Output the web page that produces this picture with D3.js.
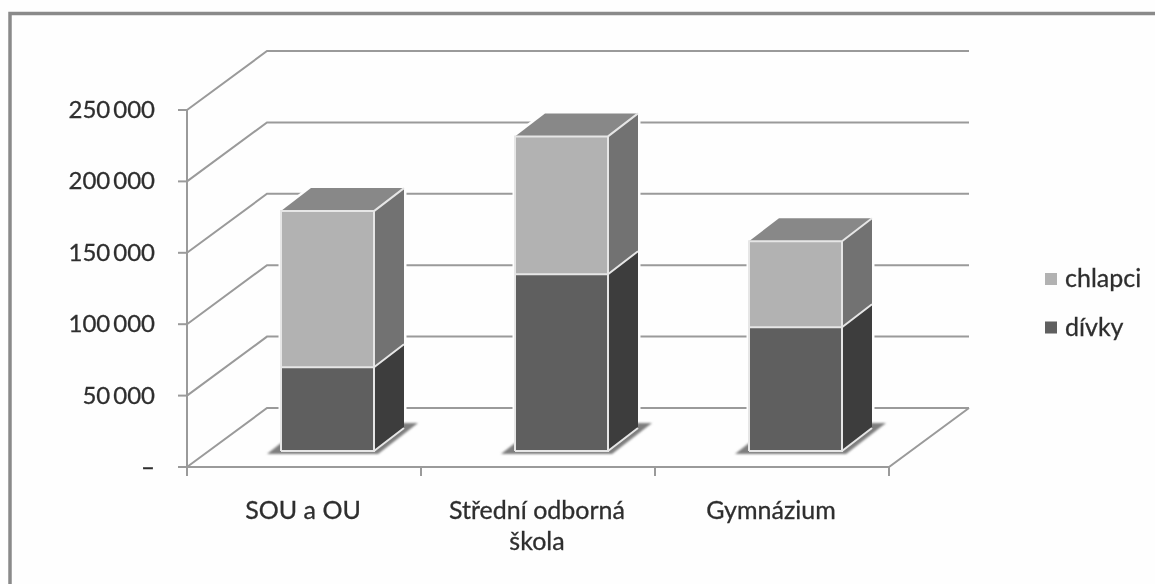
<!DOCTYPE html>
<html lang="cs">
<head>
<meta charset="utf-8">
<title>SOU, SOS, gymnazium</title>
<style>
	body { margin: 0; background: #fff; overflow: hidden; }
	text { font-family: Lato, "Open Sans", sans-serif; fill: #2e2e2e; stroke: #2e2e2e; stroke-width: 0.3px; }
</style>
</head>
<body>
<svg id="chart" width="1155" height="584"></svg>
<script src="https://d3js.org/d3.v7.min.js"></script>
<script>
var categories = [["SOU a OU"], ["Střední odborná", "škola"], ["Gymnázium"]];
var divky = [58700, 123800, 86700];
var chlapci = [109300, 96500, 60200];
var yTicks = [0, 50000, 100000, 150000, 200000, 250000];
var seriesNames = ["chlapci", "dívky"];

var svg = d3.select("#chart");
var defs = svg.append("defs");
defs.append("filter").attr("id", "soft")
	.attr("x", "-5%").attr("y", "-5%").attr("width", "110%").attr("height", "110%")
	.append("feGaussianBlur").attr("stdDeviation", 0.75);
defs.append("filter").attr("id", "shadow")
	.append("feGaussianBlur").attr("stdDeviation", 1.2);

// chart frame, only top and left edge are in the picture
svg.append("rect").attr("width", 1155).attr("height", 584).attr("fill", "#fefefe");
svg.append("path").attr("fill", "none").attr("stroke", "#8a8a8a").attr("stroke-width", 3.5)
	.attr("d", d3.line()([[10, 584], [10, 13.5], [1155, 13.5]]));

var g = svg.append("g").attr("filter", "url(#soft)");

var x = d3.scaleBand().domain(d3.range(categories.length)).range([187, 889]);
var y = d3.scaleLinear().domain([0, 250000]).range([467, 110]);
var wallDx = 80, wallDy = -59;
var barW = 93, barDx = 30, barDy = -23;
var barShift = 23.5, baseLift = 16;

var lineColor = "#9a9a9a";
function poly(sel, pts, fill) {
	return sel.append("polygon").attr("points", pts.map(function(p) { return p.join(","); }).join(" ")).attr("fill", fill);
}

// gridlines along the walls
yTicks.forEach(function(t) {
	g.append("path").attr("fill", "none").attr("stroke", lineColor).attr("stroke-width", 2)
		.attr("d", d3.line()([[x.range()[0], y(t)], [x.range()[0] + wallDx, y(t) + wallDy], [x.range()[1] + wallDx, y(t) + wallDy]]));
});
// floor front edge and right side
g.append("path").attr("fill", "none").attr("stroke", lineColor).attr("stroke-width", 2)
	.attr("d", d3.line()([[x.range()[0], y(0)], [x.range()[1], y(0)], [x.range()[1] + wallDx, y(0) + wallDy]]));
// y axis line
g.append("line").attr("x1", x.range()[0]).attr("x2", x.range()[0]).attr("y1", y(0) + 8).attr("y2", y(250000))
	.attr("stroke", lineColor).attr("stroke-width", 2);

// y ticks
yTicks.forEach(function(t) {
	g.append("line").attr("x1", 178).attr("x2", 187).attr("y1", y(t)).attr("y2", y(t))
		.attr("stroke", lineColor).attr("stroke-width", 2);
	g.append("text").attr("x", 155).attr("y", y(t) + 8).attr("text-anchor", "end")
		.attr("font-size", 24)
		.text(t === 0 ? "–" : d3.format(",")(t).replace(/,/g, "\u2009"));
});

// x ticks and labels
d3.range(categories.length + 1).forEach(function(i) {
	var tx = x.range()[0] + i * x.step();
	g.append("line").attr("x1", tx).attr("x2", tx).attr("y1", y(0)).attr("y2", y(0) + 9)
		.attr("stroke", lineColor).attr("stroke-width", 2);
});
categories.forEach(function(lines, i) {
	var cx = x(i) + x.step() / 2 - 1;
	lines.forEach(function(s, k) {
		g.append("text").attr("x", cx).attr("y", 519 + k * 31).attr("text-anchor", "middle")
			.attr("font-size", 25).text(s);
	});
});

// bars
categories.forEach(function(c, i) {
	var bx = x(i) + (x.step() - barW) / 2 + barShift;
	var base = y(0) - baseLift;
	var y1 = base - (y(0) - y(divky[i]));
	var y2 = y1 - (y(0) - y(chlapci[i]));
	var rx = bx + barW, bk = rx + barDx;

	// pale halo that cuts the gridlines next to the bar
	poly(g, [[bx, y2], [bx + barDx, y2 + barDy], [bk, y2 + barDy], [bk, base + barDy], [rx, base], [bx, base]], "none")
		.attr("stroke", "#fefefe").attr("stroke-width", 5);

	// floor shadow
	poly(g, [[bx - 14, base + 3], [rx + 4, base + 3], [bk + 14, base + barDy - 5], [bk, base + barDy - 5], [bx, base - 8]], "#7e7e7e")
		.attr("filter", "url(#shadow)");

	// right side faces
	poly(g, [[rx, base], [bk, base + barDy], [bk, y1 + barDy], [rx, y1]], "#3c3c3c");
	poly(g, [[rx, y1], [bk, y1 + barDy], [bk, y2 + barDy], [rx, y2]], "#727272");
	// top
	poly(g, [[bx, y2], [bx + barDx, y2 + barDy], [bk, y2 + barDy], [rx, y2]], "#888888");
	// front faces
	g.append("rect").attr("x", bx).attr("y", y1).attr("width", barW).attr("height", base - y1).attr("fill", "#5f5f5f");
	g.append("rect").attr("x", bx).attr("y", y2).attr("width", barW).attr("height", y1 - y2).attr("fill", "#b2b2b2");

	// light edges
	var edge = d3.line();
	g.append("path").attr("fill", "none").attr("stroke", "#e6e6e6").attr("stroke-width", 2)
		.attr("d", edge([[bx, base], [bx, y2], [rx, y2], [rx, base], [bx, base]]) +
			edge([[bx, y1], [rx, y1]]) +
			edge([[rx, y1], [bk, y1 + barDy]]) +
			edge([[rx, y2], [bk, y2 + barDy]]) +
			edge([[rx, base], [bk, base + barDy]]));
});

// legend
var legendColor = d3.scaleOrdinal().domain(seriesNames).range(["#b2b2b2", "#5f5f5f"]);
seriesNames.forEach(function(s, i) {
	var ly = 279 + i * 48.5;
	g.append("rect").attr("x", 1045).attr("y", ly - 6).attr("width", 12).attr("height", 12).attr("fill", legendColor(s));
	g.append("text").attr("x", 1065).attr("y", ly + 8).attr("font-size", 25).text(s);
});
</script>
</body>
</html>
